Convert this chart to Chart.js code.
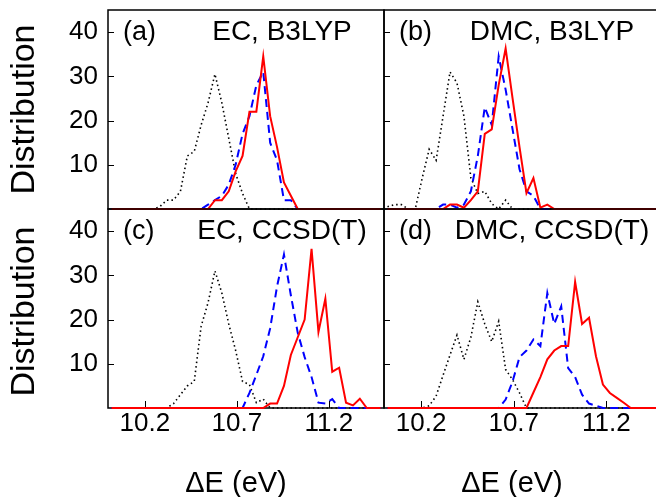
<!DOCTYPE html>
<html>
<head>
<meta charset="utf-8">
<script src="https://cdn.jsdelivr.net/npm/chart.js@4.4.1/dist/chart.umd.min.js"></script>
<style>
  html, body { margin: 0; padding: 0; background: #fff; }
  #wrap { position: relative; width: 656px; height: 497px; overflow: hidden; }
  #wrap canvas { position: absolute; left: 0; top: 0; }
</style>
</head>
<body>
<div id="wrap">
  <canvas id="panelA" width="670" height="497"></canvas>
  <canvas id="panelB" width="670" height="497"></canvas>
  <canvas id="panelC" width="670" height="497"></canvas>
  <canvas id="panelD" width="670" height="497"></canvas>
</div>
<script>
// bin centres (eV)
var energy = [10.01875, 10.05625, 10.09375, 10.13125, 10.16875, 10.20625, 10.24375, 10.28125, 10.31875, 10.35625,
              10.39375, 10.43125, 10.46875, 10.50625, 10.54375, 10.58125, 10.61875, 10.65625, 10.69375, 10.73125,
              10.76875, 10.80625, 10.84375, 10.88125, 10.91875, 10.95625, 10.99375, 11.03125, 11.06875, 11.10625,
              11.14375, 11.18125, 11.21875, 11.25625, 11.29375, 11.33125, 11.36875, 11.40625, 11.44375, 11.48125];
var xTicks = [10.2, 10.7, 11.2];
var yTicks = [10, 20, 30, 40];

// (a) EC, B3LYP
var blackA = [0, 0, 0, 0, 0, 0, 0, 0.5, 2, 2, 4, 12, 13, 19, 24, 30.5, 24, 16, 8, 3.5,
              0, 0, 0, 0, 0, 0, 0, 0, 0, 0, 0, 0, 0, 0, 0, 0, 0, 0, 0, 0];
var blueA  = [0, 0, 0, 0, 0, 0, 0, 0, 0, 0, 0, 0, 0, 0, 1, 2, 3, 5.5, 10, 17,
              21, 28, 31, 15, 11, 2, 2, 0, 0, 0, 0, 0, 0, 0, 0, 0, 0, 0, 0, 0];
var redA   = [0, 0, 0, 0, 0, 0, 0, 0, 0, 0, 0, 0, 0, 0, 0, 2, 2, 4, 8.5, 12,
              22, 22, 34.5, 21, 14, 6, 3, 0, 0, 0, 0, 0, 0, 0, 0, 0, 0, 0, 0, 0];
// (b) DMC, B3LYP
var blackB = [0.5, 1, 1, 0, 0, 7, 13.5, 11, 21, 31, 28.5, 21, 7, 3.5, 4, 1.2, 0, 2, 0, 0,
              0, 0, 0, 0, 0, 0, 0, 0, 0, 0, 0, 0, 0, 0, 0, 0, 0, 0, 0, 0];
var blueB  = [0, 0, 0, 0, 0, 0, 0, 0, 1, 1, 0.3, 1, 4, 12, 23, 19, 34.5, 27, 18, 9,
              4, 3, 0, 0, 0, 0, 0, 0, 0, 0, 0, 0, 0, 0, 0, 0, 0, 0, 0, 0];
var redB   = [0, 0, 0, 0, 0, 0, 0, 0, 0, 1, 1, 0.3, 2, 4, 17, 18, 28, 36.3, 25, 14,
              3.6, 7, 0.3, 1, 0, 0, 0, 0, 0, 0, 0, 0, 0, 0, 0, 0, 0, 0, 0, 0];
// (c) EC, CCSD(T)
var blackC = [0, 0, 0, 0, 0, 0, 0, 0, 0, 1, 3, 5, 6, 18.5, 23.8, 31, 26, 19, 13, 6,
              5.3, 1.2, 2, 0, 0, 0, 0, 0, 0, 0, 0, 0, 0, 0, 0, 0, 0, 0, 0, 0];
var blueC  = [0, 0, 0, 0, 0, 0, 0, 0, 0, 0, 0, 0, 0, 0, 0, 0, 0, 0, 0, 0,
              3.4, 7.5, 11.7, 18, 27.5, 34.7, 25.5, 17, 11.5, 7, 1.2, 1, 2, 0, 0, 0, 0, 0, 0, 0];
var redC   = [0, 0, 0, 0, 0, 0, 0, 0, 0, 0, 0, 0, 0, 0, 0, 0, 0, 0, 0, 0,
              0, 0, 0, 1, 1, 5, 12, 16, 20, 36, 17.2, 24.7, 8.2, 9.1, 1.2, 0.6, 2.1, 0, 0, 0];
// (d) DMC, CCSD(T)
var blackD = [0, 0, 0, 0, 0, 0, 0.5, 2.7, 7.4, 12, 16.5, 11, 16, 24, 19, 15, 19.6, 8.7, 6.4, 3.4,
              0, 0, 0, 0, 0, 0, 0, 0, 0, 0, 0, 0, 0, 0, 0, 0, 0, 0, 0, 0];
var blueD  = [0, 0, 0, 0, 0, 0, 0, 0, 0, 0, 0, 0, 0, 0, 0, 0, 0, 1.9, 6, 11.5,
              13, 15.5, 14, 26, 19, 23, 9, 7, 3, 1, 0.5, 0, 0, 0, 0, 0, 0, 0, 0, 0];
var redD   = [0, 0, 0, 0, 0, 0, 0, 0, 0, 0, 0, 0, 0, 0, 0, 0, 0, 0, 0, 0,
              0, 3.5, 7, 11, 13, 14, 14, 28.5, 19, 20.4, 11.7, 5.3, 3.4, 2.3, 1.2, 0, 0, 0, 0, 0];

var FONT = '"Liberation Sans", Arial, Helvetica, sans-serif';

// frame, inward ticks and the texts of one panel
var panelDeco = {
    id: 'panelDeco',
    beforeDatasetsDraw: function (chart, args, opts) {
        var ctx = chart.ctx, a = chart.chartArea;
        var xs = chart.scales.x, ys = chart.scales.y;
        ctx.save();
        ctx.strokeStyle = '#000';
        ctx.lineWidth = 1.5;
        ctx.strokeRect(a.left, a.top, a.right - a.left, a.bottom - a.top);
        ctx.lineWidth = 1;
        ctx.beginPath();
        yTicks.forEach(function (v) {
            var py = Math.round(ys.getPixelForValue(v)) + 0.5;
            ctx.moveTo(a.left, py);
            ctx.lineTo(a.left + 6, py);
        });
        if (opts.xTitle) {
            xTicks.forEach(function (v) {
                var px = Math.round(xs.getPixelForValue(v)) + 0.5;
                ctx.moveTo(px, a.bottom);
                ctx.lineTo(px, a.bottom - 7);
            });
        }
        ctx.stroke();
        ctx.restore();
    },
    afterDraw: function (chart, args, opts) {
        var ctx = chart.ctx, a = chart.chartArea;
        ctx.save();
        ctx.fillStyle = '#000';
        ctx.textBaseline = 'alphabetic';
        ctx.font = '27px ' + FONT;
        ctx.textAlign = 'left';
        ctx.fillText(opts.tag, a.left + 15, a.top + 30);
        ctx.font = '28px ' + FONT;
        ctx.textAlign = 'center';
        ctx.fillText(opts.title, a.left + opts.titleX, a.top + 30);
        if (opts.xTitle) {
            ctx.font = '29px ' + FONT;
            ctx.fillText(opts.xTitle, a.left + 128, 492);
        }
        if (opts.yTitle) {
            ctx.translate(25, (a.top + a.bottom) / 2 + (opts.yTitleDy || 0));
            ctx.rotate(-Math.PI / 2);
            ctx.font = '34px ' + FONT;
            ctx.textBaseline = 'middle';
            ctx.fillText(opts.yTitle, 0, 0);
        }
        ctx.restore();
    }
};

function series(values, color, dash, width) {
    return {
        data: values.map(function (v, i) { return { x: energy[i], y: v }; }),
        borderColor: color,
        borderWidth: width,
        borderDash: dash,
        pointRadius: 0,
        tension: 0,
        fill: false,
        clip: false
    };
}

function noPad(s) {
    s.paddingTop = 0;
    s.paddingBottom = 0;
    s.paddingLeft = 0;
    s.paddingRight = 0;
}

function makePanel(id, black, blue, red, p) {
    return new Chart(document.getElementById(id), {
        type: 'line',
        data: {
            datasets: [
                series(red, '#ff0000', [], 2),
                series(blue, '#0000ff', [8, 5], 2),
                series(black, '#000000', [1.5, 3], 1.6)
            ]
        },
        options: {
            responsive: false,
            animation: false,
            devicePixelRatio: 1,
            layout: { padding: p.pad },
            plugins: {
                legend: { display: false },
                tooltip: { enabled: false },
                panelDeco: p
            },
            scales: {
                x: {
                    type: 'linear',
                    min: 10.0,
                    max: 11.5,
                    grid: { display: false, drawTicks: false },
                    border: { display: false },
                    afterBuildTicks: function (s) { s.ticks = xTicks.map(function (v) { return { value: v }; }); },
                    afterFit: function (s) { s.height = p.xTitle ? 40 : 0; noPad(s); },
                    ticks: {
                        display: !!p.xTitle,
                        autoSkip: false,
                        maxRotation: 0,
                        padding: 0,
                        color: '#000',
                        font: { family: FONT, size: 26 },
                        callback: function (v) { return v.toFixed(1); }
                    }
                },
                y: {
                    min: 0,
                    max: 45,
                    grid: { display: false, drawTicks: false },
                    border: { display: false },
                    afterBuildTicks: function (s) { s.ticks = yTicks.map(function (v) { return { value: v }; }); },
                    afterFit: function (s) { s.width = p.yTitle ? 108 : 0; noPad(s); },
                    ticks: {
                        display: !!p.yTitle,
                        autoSkip: false,
                        padding: 10,
                        color: '#000',
                        font: { family: FONT, size: 26 },
                        callback: function (v) { return String(v); }
                    }
                }
            }
        },
        plugins: [panelDeco]
    });
}

var chartA = makePanel('panelA', blackA, blueA, redA, {
    tag: '(a)', title: 'EC, B3LYP', titleX: 174, yTitle: 'Distribution',
    pad: { left: 0, top: 10, right: 286, bottom: 288 }
});
var chartB = makePanel('panelB', blackB, blueB, redB, {
    tag: '(b)', title: 'DMC, B3LYP', titleX: 168,
    pad: { left: 384, top: 10, right: 8, bottom: 288 }
});
var chartC = makePanel('panelC', blackC, blueC, redC, {
    tag: '(c)', title: 'EC, CCSD(T)', titleX: 174, yTitle: 'Distribution', yTitleDy: 3, xTitle: '\u0394E (eV)',
    pad: { left: 0, top: 209, right: 286, bottom: 49 }
});
var chartD = makePanel('panelD', blackD, blueD, redD, {
    tag: '(d)', title: 'DMC, CCSD(T)', titleX: 168, xTitle: '\u0394E (eV)',
    pad: { left: 384, top: 209, right: 8, bottom: 49 }
});
</script>
</body>
</html>
